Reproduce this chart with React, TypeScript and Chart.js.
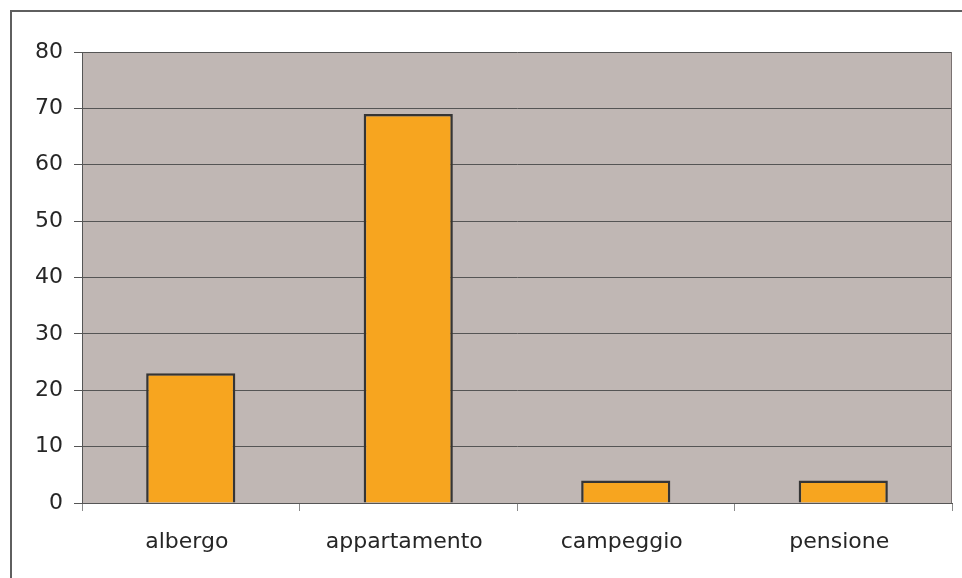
import React, { useEffect, useRef } from "react";
import { Chart, registerables } from "chart.js";

Chart.register(...registerables);

const categories: string[] = ["albergo", "appartamento", "campeggio", "pensione"];
const values: number[] = [23, 69, 4, 4];
const yMin = 0;
const yMax = 80;
const yStep = 10;

const plotBg = "#C0B7B4";
const barFill = "#F7A51F";
const barBorder = "#353535";
const gridColor = "#555555";
const textColor = "#262626";

const frame = {
  id: "frame",
  beforeDraw(chart: any) {
    const { ctx, chartArea } = chart;
    ctx.save();
    ctx.fillStyle = "#ffffff";
    ctx.fillRect(0, 0, chart.width, chart.height);
    ctx.fillStyle = "#5f5f5f";
    ctx.fillRect(10, 10, chart.width, 2);
    ctx.fillRect(10, 10, 2, chart.height);
    ctx.fillStyle = plotBg;
    ctx.fillRect(chartArea.left, chartArea.top, chartArea.right - chartArea.left, chartArea.bottom - chartArea.top);
    ctx.restore();
  },
  afterDatasetsDraw(chart: any) {
    const { ctx, chartArea } = chart;
    ctx.save();
    ctx.strokeStyle = "#7a7272";
    ctx.lineWidth = 1;
    ctx.beginPath();
    ctx.moveTo(chartArea.right - 0.5, chartArea.top);
    ctx.lineTo(chartArea.right - 0.5, chartArea.bottom);
    ctx.stroke();
    ctx.restore();
  },
};

export default function App() {
  const ref = useRef<HTMLCanvasElement | null>(null);
  useEffect(() => {
    if (!ref.current) return;
    const chart = new Chart(ref.current, {
      type: "bar",
      data: {
        labels: categories,
        datasets: [
          {
            data: values,
            backgroundColor: barFill,
            borderColor: barBorder,
            borderWidth: 2.5,
            barPercentage: 0.41,
            categoryPercentage: 1,
          },
        ],
      },
      options: {
        animation: false,
        responsive: true,
        maintainAspectRatio: false,
        layout: { padding: { top: 52, right: 10, bottom: 0, left: 0 } },
        plugins: { legend: { display: false }, tooltip: { enabled: false } },
        scales: {
          x: {
            offset: true,
            grid: {
              offset: true,
              drawOnChartArea: false,
              drawTicks: true,
              tickLength: 8,
              color: "#8a8a8a",
            },
            border: { display: true, color: gridColor, width: 1 },
            ticks: {
              color: textColor,
              padding: 18,
              labelOffset: -4,
              maxRotation: 0,
              font: { family: "DejaVu Sans", size: 22 },
            },
            afterFit: (s: any) => {
              s.height = 75;
            },
          },
          y: {
            min: yMin,
            max: yMax,
            grid: {
              color: gridColor,
              tickLength: 8,
              drawTicks: true,
            },
            border: { display: true, color: gridColor, width: 1 },
            ticks: {
              stepSize: yStep,
              color: textColor,
              padding: 11,
              font: { family: "DejaVu Sans", size: 22 },
            },
            afterFit: (s: any) => {
              s.width = 82;
            },
          },
        },
      },
      plugins: [frame],
    });
    return () => chart.destroy();
  }, []);
  return (
    <div style={{ position: "fixed", left: 0, top: 0, width: 962, height: 578, background: "#fff" }}>
      <canvas ref={ref} style={{ width: "100%", height: "100%" }} />
    </div>
  );
}
